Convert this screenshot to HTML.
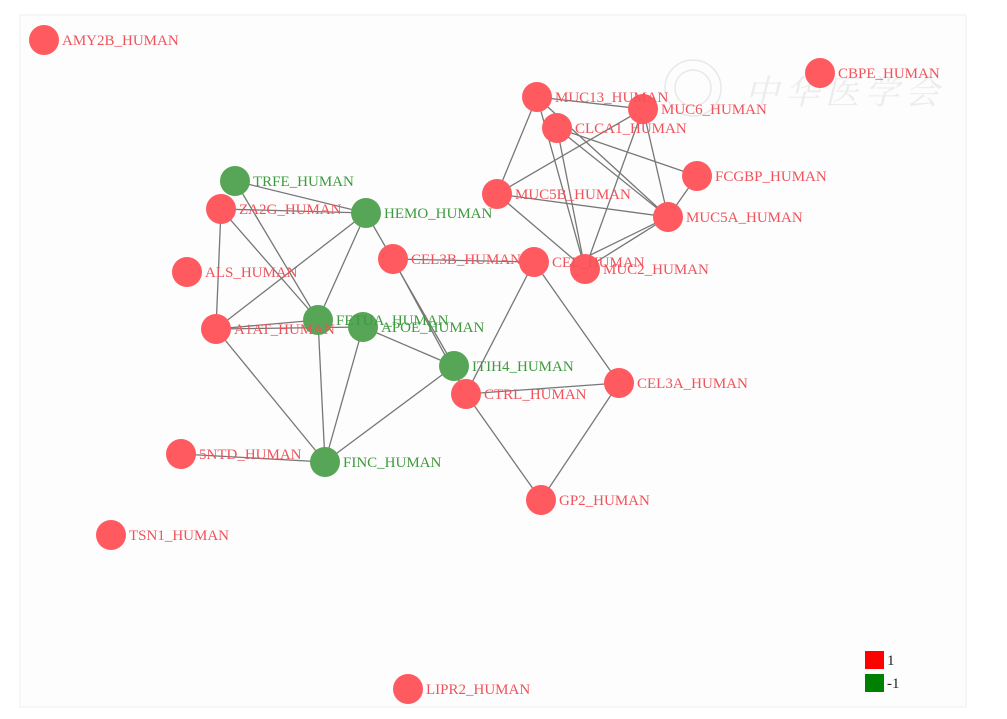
<!DOCTYPE html>
<html><head><meta charset="utf-8"><style>
html,body{margin:0;padding:0;background:#fff;}
svg{display:block;}
text{font-family:"Liberation Serif","DejaVu Serif",serif;font-size:15px;}
</style></head><body>
<svg width="1007" height="719" viewBox="0 0 1007 719" xmlns="http://www.w3.org/2000/svg">
<rect x="20" y="15" width="946" height="692" fill="#fdfdfd" stroke="#eee" stroke-width="1"/>
<g opacity="0.3" fill="none" stroke="#bbb" stroke-width="1.5">
<circle cx="693" cy="88" r="28"/><circle cx="693" cy="88" r="18"/>
</g>
<text x="745" y="104" fill="#ececec" font-style="italic" style="font-family:'Noto Serif CJK SC',serif;font-size:34px;letter-spacing:6px">中华医学会</text>
<g stroke="#777" stroke-width="1.3" fill="none">
<line x1="235" y1="181" x2="366" y2="213"/>
<line x1="221" y1="209" x2="366" y2="213"/>
<line x1="235" y1="181" x2="318" y2="320"/>
<line x1="221" y1="209" x2="318" y2="320"/>
<line x1="221" y1="209" x2="216" y2="329"/>
<line x1="366" y1="213" x2="216" y2="329"/>
<line x1="366" y1="213" x2="318" y2="320"/>
<line x1="366" y1="213" x2="454" y2="366"/>
<line x1="393" y1="259" x2="466" y2="394"/>
<line x1="216" y1="329" x2="318" y2="320"/>
<line x1="216" y1="329" x2="363" y2="327"/>
<line x1="216" y1="329" x2="325" y2="462"/>
<line x1="318" y1="320" x2="325" y2="462"/>
<line x1="363" y1="327" x2="325" y2="462"/>
<line x1="363" y1="327" x2="454" y2="366"/>
<line x1="325" y1="462" x2="454" y2="366"/>
<line x1="181" y1="454" x2="325" y2="462"/>
<line x1="393" y1="259" x2="534" y2="262"/>
<line x1="534" y1="262" x2="466" y2="394"/>
<line x1="534" y1="262" x2="619" y2="383"/>
<line x1="466" y1="394" x2="619" y2="383"/>
<line x1="466" y1="394" x2="541" y2="500"/>
<line x1="619" y1="383" x2="541" y2="500"/>
<line x1="537" y1="97" x2="643" y2="109"/>
<line x1="537" y1="97" x2="497" y2="194"/>
<line x1="537" y1="97" x2="585" y2="269"/>
<line x1="537" y1="97" x2="668" y2="217"/>
<line x1="557" y1="128" x2="585" y2="269"/>
<line x1="557" y1="128" x2="668" y2="217"/>
<line x1="557" y1="128" x2="697" y2="176"/>
<line x1="643" y1="109" x2="497" y2="194"/>
<line x1="643" y1="109" x2="585" y2="269"/>
<line x1="643" y1="109" x2="668" y2="217"/>
<line x1="497" y1="194" x2="668" y2="217"/>
<line x1="497" y1="194" x2="585" y2="269"/>
<line x1="697" y1="176" x2="668" y2="217"/>
<line x1="668" y1="217" x2="585" y2="269"/>
<line x1="668" y1="217" x2="570" y2="265"/>
</g>
<g fill="#ff5a5f">
<circle cx="44" cy="40" r="15"/><circle cx="820" cy="73" r="15"/>
<circle cx="537" cy="97" r="15"/><circle cx="643" cy="109" r="15"/>
<circle cx="557" cy="128" r="15"/><circle cx="697" cy="176" r="15"/>
<circle cx="497" cy="194" r="15"/><circle cx="668" cy="217" r="15"/>
<circle cx="221" cy="209" r="15"/><circle cx="393" cy="259" r="15"/>
<circle cx="534" cy="262" r="15"/><circle cx="585" cy="269" r="15"/>
<circle cx="187" cy="272" r="15"/><circle cx="216" cy="329" r="15"/>
<circle cx="466" cy="394" r="15"/><circle cx="619" cy="383" r="15"/>
<circle cx="181" cy="454" r="15"/><circle cx="541" cy="500" r="15"/>
<circle cx="111" cy="535" r="15"/><circle cx="408" cy="689" r="15"/>
</g>
<g fill="#57a557">
<circle cx="235" cy="181" r="15"/><circle cx="366" cy="213" r="15"/>
<circle cx="318" cy="320" r="15"/><circle cx="363" cy="327" r="15"/>
<circle cx="454" cy="366" r="15"/><circle cx="325" cy="462" r="15"/>
</g>
<g fill="#f0525a">
<text x="62" y="45">AMY2B_HUMAN</text>
<text x="838" y="78">CBPE_HUMAN</text>
<text x="555" y="102">MUC13_HUMAN</text>
<text x="661" y="114">MUC6_HUMAN</text>
<text x="575" y="133">CLCA1_HUMAN</text>
<text x="715" y="181">FCGBP_HUMAN</text>
<text x="515" y="199">MUC5B_HUMAN</text>
<text x="686" y="222">MUC5A_HUMAN</text>
<text x="239" y="214">ZA2G_HUMAN</text>
<text x="411" y="264">CEL3B_HUMAN</text>
<text x="552" y="267">CEL_HUMAN</text>
<text x="603" y="274">MUC2_HUMAN</text>
<text x="205" y="277">ALS_HUMAN</text>
<text x="234" y="334">A1AT_HUMAN</text>
<text x="484" y="399">CTRL_HUMAN</text>
<text x="637" y="388">CEL3A_HUMAN</text>
<text x="199" y="459">5NTD_HUMAN</text>
<text x="559" y="505">GP2_HUMAN</text>
<text x="129" y="540">TSN1_HUMAN</text>
<text x="426" y="694">LIPR2_HUMAN</text>
</g>
<g fill="#3e9a3e">
<text x="253" y="186">TRFE_HUMAN</text>
<text x="384" y="218">HEMO_HUMAN</text>
<text x="336" y="325">FETUA_HUMAN</text>
<text x="381" y="332">APOE_HUMAN</text>
<text x="472" y="371">ITIH4_HUMAN</text>
<text x="343" y="467">FINC_HUMAN</text>
</g>
<rect x="865" y="651" width="19" height="18" fill="#ff0000"/>
<rect x="865" y="674" width="19" height="18" fill="#008000"/>
<text x="887" y="665" fill="#222">1</text>
<text x="887" y="688" fill="#222">-1</text>
</svg>
</body></html>
